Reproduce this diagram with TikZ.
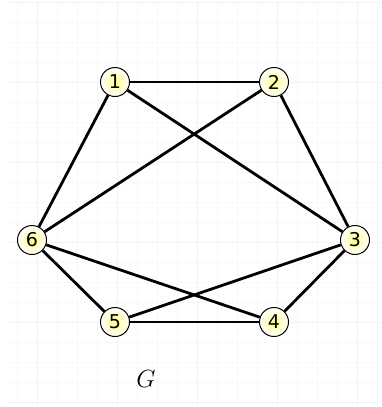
\documentclass[tikz,border=0pt]{standalone}
\usepackage{fontspec}
\newfontfamily\numfont{DejaVu Sans}
\begin{document}
\begin{tikzpicture}[x=1pt,y=-1pt,
  vtx/.style={circle,draw=black,line width=1pt,inner color=yellow!45,outer color=white,minimum size=29pt,inner sep=0pt,font=\numfont\fontsize{19}{19}\selectfont},
  edge/.style={line width=2.8pt,black},
  minorgrid/.style={draw=blue!3,line width=0.8pt},
  majorgrid/.style={draw=blue!5,line width=1pt}]
\useasboundingbox (0,0) rectangle (382,407);
\fill[white] (0,0) rectangle (382,407);
\foreach \x in {17,37,...,377} \draw[minorgrid] (\x,2) -- (\x,405);
\foreach \y in {2,22,...,402} \draw[minorgrid] (10,\y) -- (380,\y);
\foreach \x in {37,117,197,277,357} \draw[majorgrid] (\x,2) -- (\x,405);
\foreach \y in {2,82,162,242,322,402} \draw[majorgrid] (10,\y) -- (380,\y);
\node[vtx] (n1) at (115,82) {1};
\node[vtx] (n2) at (274,82) {2};
\node[vtx] (n3) at (355,240) {3};
\node[vtx] (n4) at (274,322) {4};
\node[vtx] (n5) at (115,322) {5};
\node[vtx] (n6) at (32,240) {6};
\draw[edge] (n1) -- (n2);
\draw[edge] (n1) -- (n6);
\draw[edge] (n1) -- (n3);
\draw[edge] (n2) -- (n6);
\draw[edge] (n2) -- (n3);
\draw[edge] (n3) -- (n4);
\draw[edge] (n3) -- (n5);
\draw[edge] (n6) -- (n5);
\draw[edge] (n6) -- (n4);
\draw[edge] (n5) -- (n4);
\node (g) at (146,379) {\fontsize{27}{27}\selectfont$G$};
\end{tikzpicture}
\end{document}
